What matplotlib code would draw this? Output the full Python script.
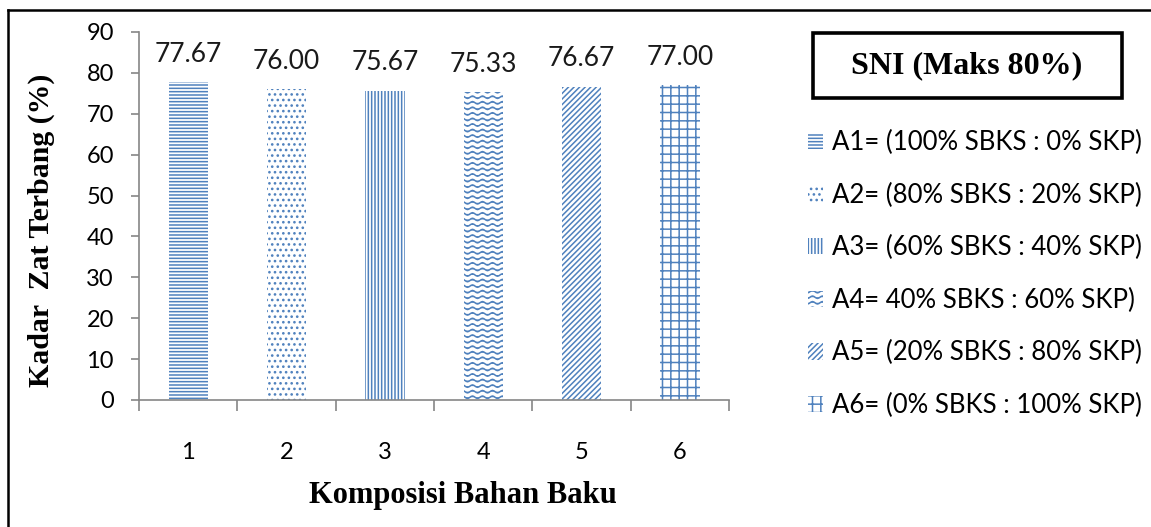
import warnings
import numpy as np
import matplotlib
matplotlib.use("Agg")
import matplotlib.pyplot as plt
import matplotlib.hatch as mhatch
from matplotlib.path import Path
from matplotlib.patches import Rectangle, Patch
from matplotlib.lines import Line2D

warnings.filterwarnings("ignore")

komposisi = ["1", "2", "3", "4", "5", "6"]
kadar = [77.67, 76.00, 75.67, 75.33, 76.67, 77.00]
label_legend = [
    "A1= (100% SBKS : 0% SKP)",
    "A2= (80% SBKS : 20% SKP)",
    "A3= (60% SBKS : 40% SKP)",
    "A4= 40% SBKS : 60% SKP)",
    "A5= (20% SBKS : 80% SKP)",
    "A6= (0% SBKS : 100% SKP)",
]
pola = ["-----", "...", "|||||", "~~~", "//////", "++"]

BIRU = "#4F81BD"


# pola gelombang untuk hatch "~"
class WaveHatch(mhatch.HatchPatternBase):
    def __init__(self, hatch, density):
        self.num_rows = int(hatch.count("~") * density)
        self.n_pts = 81
        self.num_vertices = self.num_rows * self.n_pts

    def set_vertices_and_codes(self, vertices, codes):
        t = np.linspace(0, 1, self.n_pts)
        for i in range(self.num_rows):
            y0 = (i + 0.5) / self.num_rows
            sl = slice(i * self.n_pts, (i + 1) * self.n_pts)
            vertices[sl, 0] = t
            vertices[sl, 1] = y0 + 0.012 * np.sin(2 * np.pi * 10 * t)
            codes[sl] = Path.LINETO
            codes[i * self.n_pts] = Path.MOVETO


mhatch._hatch_types.append(WaveHatch)

plt.rcParams["hatch.linewidth"] = 1.1
plt.rcParams["font.family"] = ["Lato", "DejaVu Sans"]

fig = plt.figure(figsize=(11.51, 5.27), dpi=100)
ax = fig.add_axes([139 / 1151, 1 - 400 / 527, 590 / 1151, 368 / 527])

x = np.arange(len(komposisi))
bars = ax.bar(x, kadar, width=0.4, color="white", edgecolor=BIRU, linewidth=0)
for b, h in zip(bars, pola):
    b.set_hatch(h)

for xi, v in zip(x, kadar):
    ax.annotate(f"{v:.2f}", (xi, v), xytext=(0, 11), textcoords="offset points",
                ha="center", va="bottom", fontsize=19, color="#1a1a1a")

ax.set_xlim(-0.5, 5.5)
ax.set_ylim(0, 90)
ax.set_yticks(np.arange(0, 91, 10))
ax.set_xticks(x)
ax.set_xticklabels(komposisi)
ax.set_xticks(np.arange(-0.5, 6, 1), minor=True)
ax.tick_params(axis="x", which="major", length=0, pad=30, labelsize=17)
ax.tick_params(axis="x", which="minor", length=8, width=1.2, color="#868686")
ax.tick_params(axis="y", length=6, width=1.2, color="#868686", labelsize=17, pad=12)

for s in ["top", "right"]:
    ax.spines[s].set_visible(False)
for s in ["left", "bottom"]:
    ax.spines[s].set_color("#868686")
    ax.spines[s].set_linewidth(1.2)

serif = ["Liberation Serif", "DejaVu Serif"]
fig.text(41 / 1151, 1 - 230 / 527, "Kadar  Zat Terbang (%)", rotation=90,
         ha="center", va="center", fontsize=21.5, fontweight="bold", family=serif)
fig.text(463 / 1151, 1 - 495 / 527, "Komposisi Bahan Baku",
         ha="center", va="center", fontsize=22, fontweight="bold", family=serif)

# kotak SNI
fig.add_artist(Rectangle((813 / 1151, 1 - 98 / 527), 309 / 1151, 65 / 527,
                         transform=fig.transFigure, fill=False, lw=2.6, ec="black"))
fig.text(967 / 1151, 1 - 66 / 527, "SNI (Maks 80%)", ha="center", va="center",
         fontsize=23, fontweight="bold", family=serif)

handles = [Patch(facecolor="white", edgecolor=BIRU, linewidth=0, hatch=h) for h in pola]
fig.legend(handles, label_legend, loc="upper left",
           bbox_to_anchor=(808 / 1151, 1 - 130 / 527), frameon=False,
           fontsize=18.5, handlelength=0.6, handleheight=0.6, handletextpad=0.35,
           labelspacing=1.07, borderaxespad=0, borderpad=0)

# garis bingkai luar
fig.add_artist(Line2D([8 / 1151, 1], [1 - 10 / 527, 1 - 10 / 527],
                      transform=fig.transFigure, color="black", lw=1.8))
fig.add_artist(Line2D([8 / 1151, 8 / 1151], [0, 1 - 10 / 527],
                      transform=fig.transFigure, color="black", lw=1.8))

fig.savefig("out.png", dpi=100)
